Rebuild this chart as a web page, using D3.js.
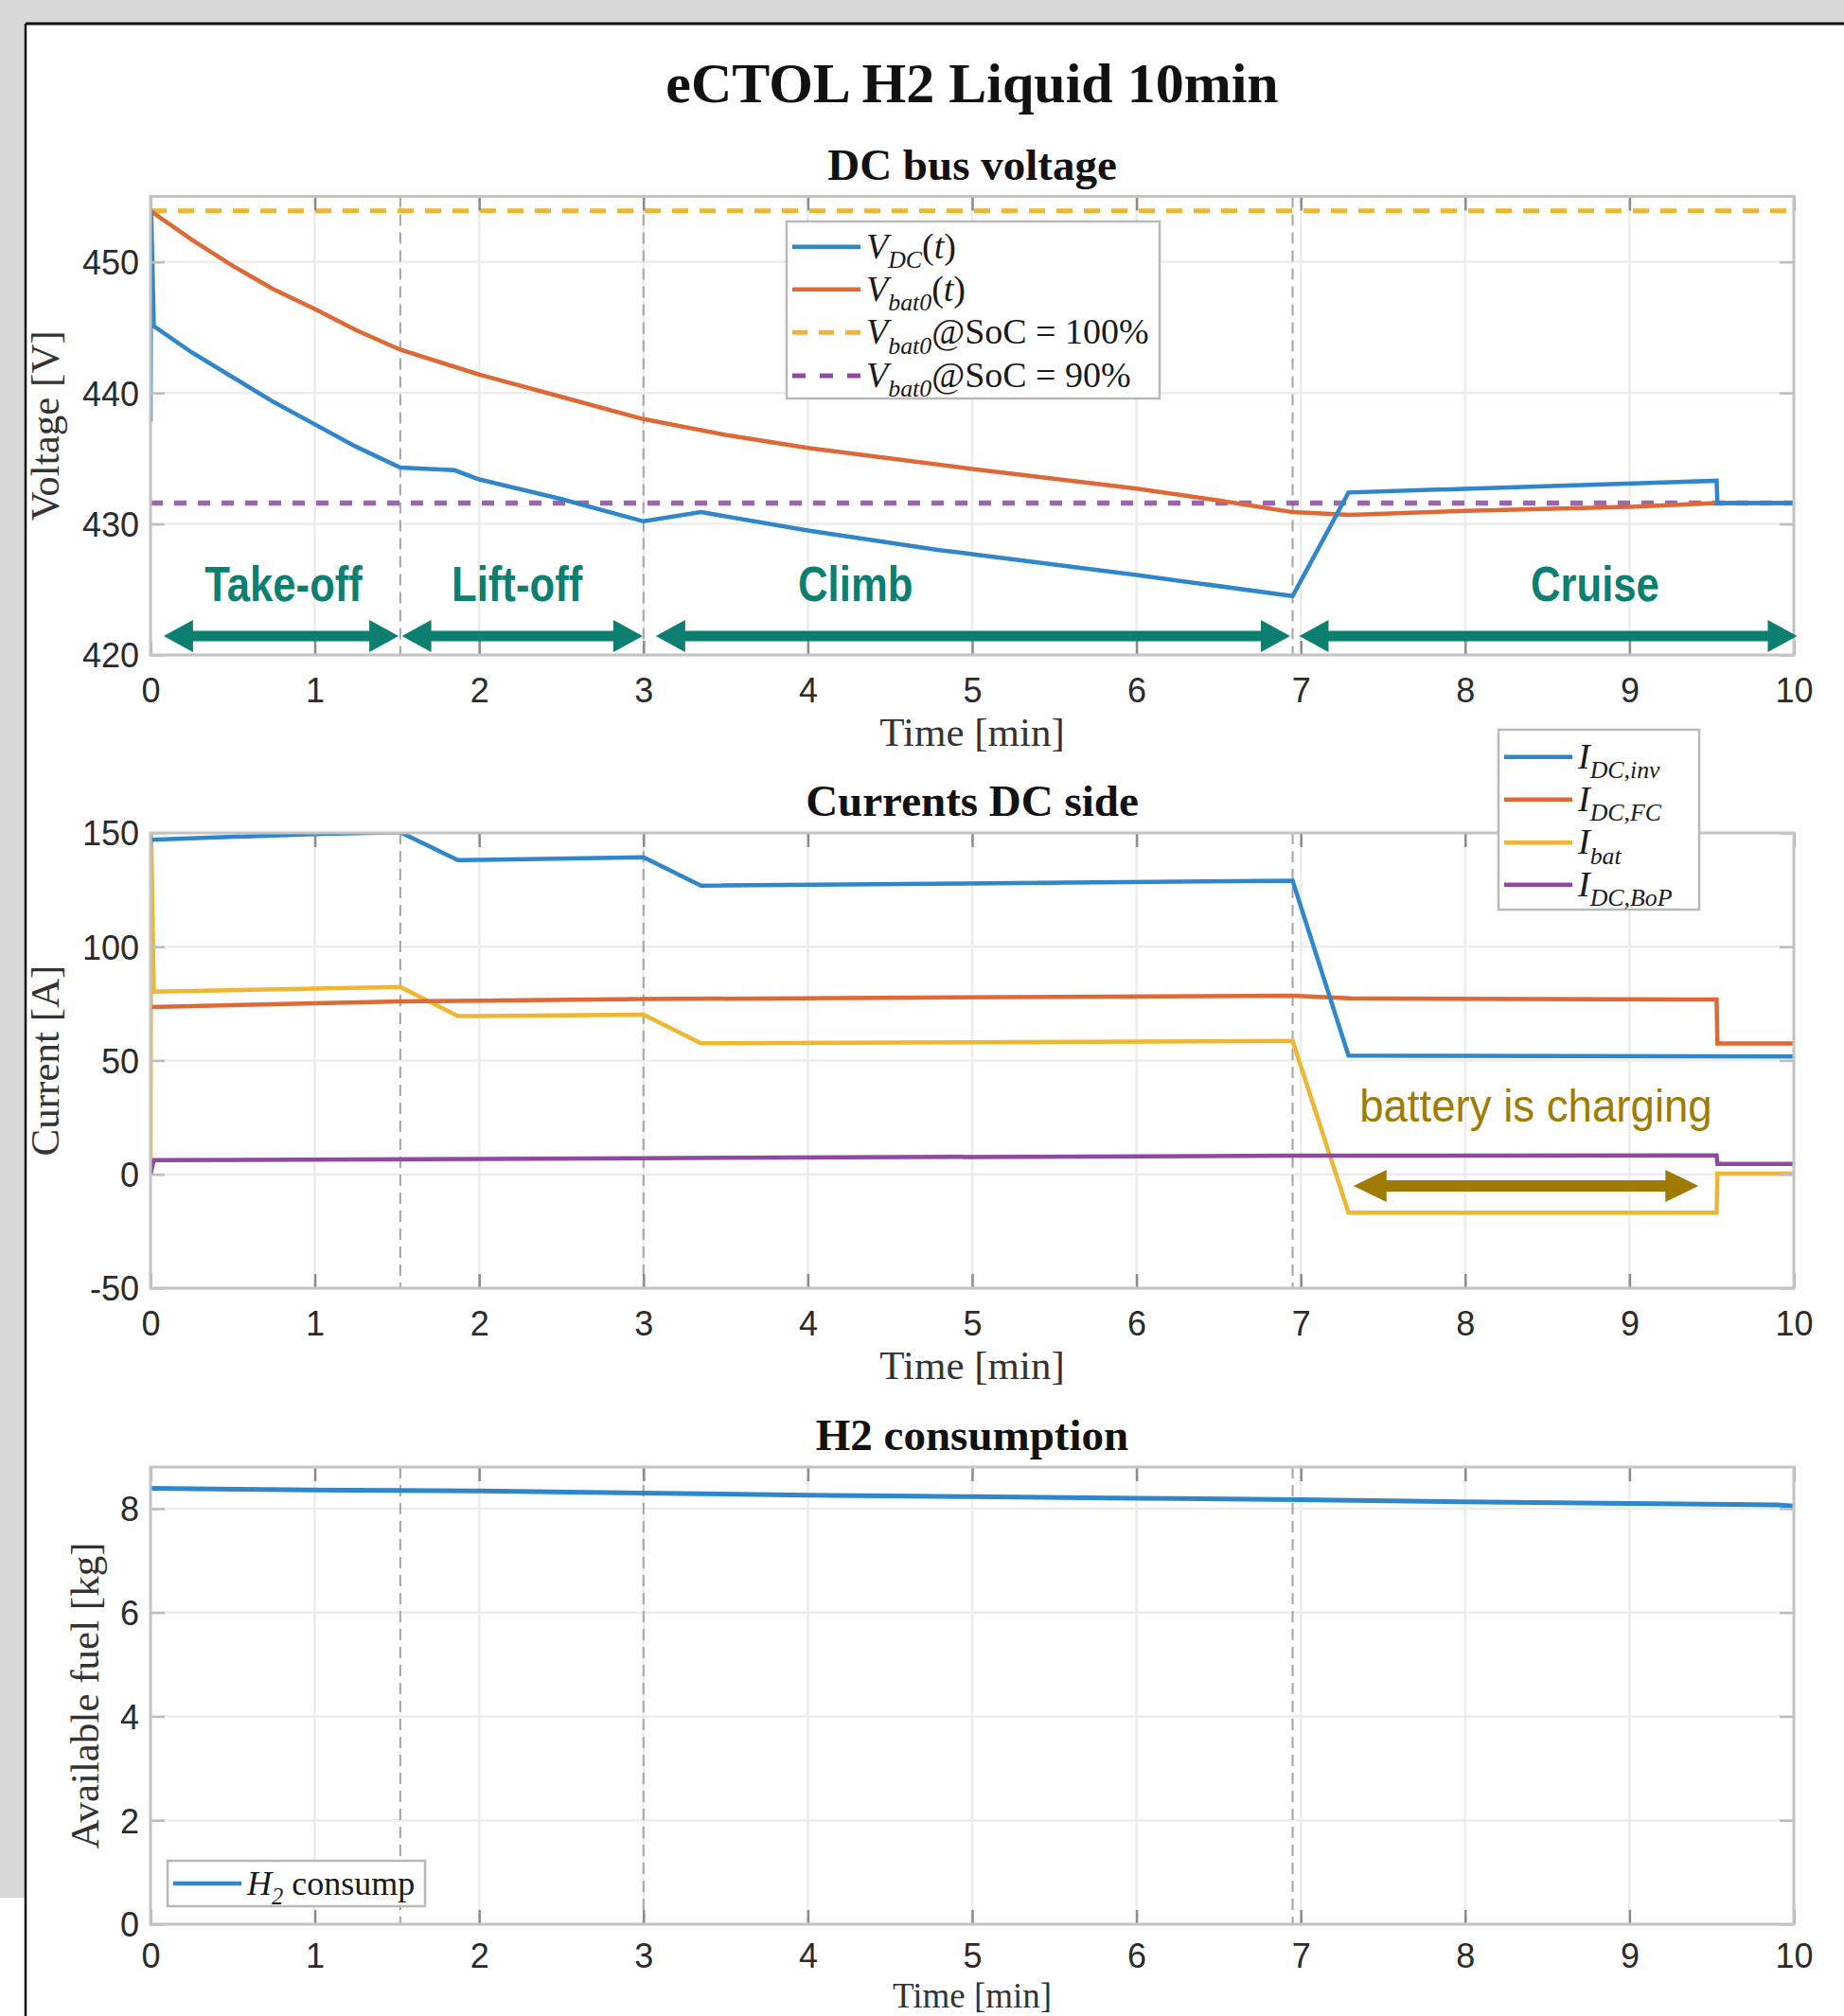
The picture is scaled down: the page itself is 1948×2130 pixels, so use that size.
<!DOCTYPE html>
<html>
<head>
<meta charset="utf-8">
<script src="https://cdn.jsdelivr.net/npm/d3@7"></script>
<style>
body { margin: 0; background: #fff; }
svg { display: block; }
</style>
</head>
<body>
<div class="wrapper"></div>
<script>
const WIDTH = 1948
const HEIGHT = 2130
const SERIF = "'Liberation Serif', 'DejaVu Serif', serif"
const SANS = "'Liberation Sans', Arial, sans-serif"

// time axis (minutes) and flight phase boundaries
const minutes = [0, 1, 2, 3, 4, 5, 6, 7, 8, 9, 10]
const phaseBounds = [1.52, 3.0, 6.95]

// --- DC bus voltage [V] ---
const voltTicks = [420, 430, 440, 450]
const vDC = [[0, 437.8], [0.004, 453.9], [0.02, 445.1], [0.25, 443.1], [0.5, 441.2], [0.75, 439.3],
             [1, 437.6], [1.25, 435.9], [1.52, 434.3], [1.85, 434.1], [2, 433.4], [2.5, 431.9],
             [3, 430.2], [3.35, 430.9], [4, 429.5], [4.8, 428.0], [5, 427.7], [6, 426.1],
             [6.95, 424.5], [7.29, 432.4], [9.53, 433.3], [9.535, 431.6], [10, 431.6]]
const vBat0 = [[0, 453.9], [0.25, 451.7], [0.5, 449.7], [0.75, 447.9], [1, 446.4], [1.25, 444.8],
               [1.52, 443.3], [2, 441.4], [2.5, 439.7], [3, 438.0], [3.5, 436.8], [4, 435.8],
               [5, 434.2], [6, 432.7], [6.5, 431.8], [6.95, 430.9], [7.3, 430.7], [8, 431.0],
               [9, 431.3], [9.53, 431.6], [10, 431.6]]
const vSoC100 = 453.9
const vSoC90 = 431.6

const phaseNames = ['Take-off', 'Lift-off', 'Climb', 'Cruise']
const phaseNameAt = [0.81, 2.23, 4.29, 8.79]
const phaseNameV = 424.1
const phaseSpans = [[0.08, 1.51], [1.53, 2.995], [3.075, 6.935], [6.99, 10.02]]
const phaseArrowV = 421.45

// --- currents DC side [A] ---
const currTicks = [-50, 0, 50, 100, 150]
const iInv = [[0, 147], [1, 149.5], [1.52, 150.3], [1.87, 138], [3, 139.3], [3.35, 126.8],
              [6.95, 129], [7.29, 52.2], [10, 51.8]]
const iFC = [[0, 73.5], [1.52, 76], [3, 77], [6.95, 78.5], [7.3, 77.3], [9.53, 76.8],
             [9.535, 57.5], [10, 57.5]]
const iBat = [[0, 0], [0.004, 150], [0.02, 80.3], [1.52, 82.3], [1.87, 69.5], [3, 70.2],
              [3.35, 57.6], [6.95, 58.6], [7.29, -16.8], [9.53, -16.8], [9.535, 0.3], [10, 0.3]]
const iBoP = [[0, 0], [0.02, 6.2], [3, 7.1], [6.95, 8.2], [9.53, 8.3], [9.535, 4.6], [10, 4.6]]
const chargingSpan = [7.32, 9.42]
const chargingArrowI = -5.1
const chargingText = 'battery is charging'
const chargingTextAt = [8.43, 23.3]

// --- H2 consumption [kg] ---
const fuelTicks = [0, 2, 4, 6, 8]
const h2Fuel = [[0, 8.39], [1, 8.36], [2, 8.34], [3, 8.30], [4, 8.26], [5, 8.23], [6, 8.20],
                [7, 8.17], [8, 8.13], [9, 8.10], [9.9, 8.07], [10, 8.05]]

const colors = {blue: '#2f86cb', orange: '#de6836', yellow: '#efb631', purple: '#8f49a3',
                teal: '#0d7f70', olive: '#9f7b02'}

const panels = [
  {title: 'DC bus voltage', top: 207.5, bottom: 692, domain: [420, 455], ticks: voltTicks,
   ylabel: 'Voltage [V]', ylabelX: 62, xlabelGap: 96, xlabelSize: 43, tickPad: 24},
  {title: 'Currents DC side', top: 880, bottom: 1361, domain: [-50, 150], ticks: currTicks,
   ylabel: 'Current [A]', ylabelX: 62, xlabelGap: 96, xlabelSize: 43, tickPad: 24},
  {title: 'H2 consumption', top: 1550, bottom: 2033, domain: [0, 8.8], ticks: fuelTicks,
   ylabel: 'Available fuel [kg]', ylabelX: 104, xlabelGap: 88, xlabelSize: 37, tickPad: 20}
]

const svg = d3.select(".wrapper")
    .append("svg")
    .attr("width", WIDTH)
    .attr("height", HEIGHT)

// screenshot surroundings
svg.append("rect").attr("width", WIDTH).attr("height", HEIGHT).attr("fill", "#fff")
svg.append("rect").attr("width", WIDTH).attr("height", 25).attr("fill", "#d9d9d9")
svg.append("rect").attr("width", 27).attr("height", 2005).attr("fill", "#d9d9d9")
svg.append("line").attr("x1", 27).attr("x2", WIDTH).attr("y1", 25).attr("y2", 25)
    .attr("stroke", "#111").attr("stroke-width", 3)
svg.append("line").attr("x1", 27).attr("x2", 27).attr("y1", 25).attr("y2", HEIGHT)
    .attr("stroke", "#111").attr("stroke-width", 2.5)

svg.append("text")
    .attr("x", 1027).attr("y", 108)
    .attr("text-anchor", "middle")
    .style("font-family", SERIF).style("font-size", "60px").style("font-weight", "bold")
    .attr("fill", "#111")
    .text("eCTOL H2 Liquid 10min")

var x = d3.scaleLinear().domain([0, 10]).range([159, 1895])

function linePath(y) {
	return d3.line().x(d => x(d[0])).y(d => y(d[1]))
}

// double headed block arrow between x1 and x2 at height yc
function arrowPath(x1, x2, yc, h, H, L) {
	return `M${x1},${yc} L${x1 + L},${yc - H} L${x1 + L},${yc - h} L${x2 - L},${yc - h}
	        L${x2 - L},${yc - H} L${x2},${yc} L${x2 - L},${yc + H} L${x2 - L},${yc + h}
	        L${x1 + L},${yc + h} L${x1 + L},${yc + H} Z`
}

function squeeze(sel, ratio) {
	sel.each(function() {
		var w = this.getComputedTextLength()
		d3.select(this).attr("textLength", w * ratio).attr("lengthAdjust", "spacingAndGlyphs")
	})
}

function legendLabel(g, lx, ly, parts, size) {
	var t = g.append("text").attr("x", lx).attr("y", ly)
	    .style("font-family", SERIF).style("font-size", size + "px").attr("fill", "#1a1a1a")
	var sub = false
	parts.forEach(function(p) {
		var sp = t.append("tspan").text(p[0])
		if (p[1] == 'i' || p[1] == 's') sp.style("font-style", "italic")
		if (p[1] == 's') {
			sp.style("font-size", (size * 0.68) + "px").attr("dy", size * 0.27)
			sub = true
		} else if (sub) {
			sp.attr("dy", -size * 0.27)
			sub = false
		}
	})
}

function legendBox(g, box, rows) {
	g.append("rect")
	    .attr("x", box[0]).attr("y", box[1]).attr("width", box[2] - box[0]).attr("height", box[3] - box[1])
	    .attr("fill", "#fff").attr("stroke", "#b9b9b9").attr("stroke-width", 2.5)
	rows.forEach(function(r) {
		g.append("line")
		    .attr("x1", box[0] + 6).attr("x2", box[0] + 78).attr("y1", r.y).attr("y2", r.y)
		    .attr("stroke", r.color).attr("stroke-width", r.dash ? 5 : 4.5)
		    .attr("stroke-dasharray", r.dash || null)
		legendLabel(g, box[0] + 84, r.y + 12, r.parts, r.size)
	})
}

panels.forEach(function(p, i) {
	var y = d3.scaleLinear().domain(p.domain).range([p.bottom, p.top])
	p.y = y
	var g = svg.append("g")

	g.append("clipPath").attr("id", "clip" + i)
	    .append("rect").attr("x", 159).attr("y", p.top).attr("width", 1895 - 159).attr("height", p.bottom - p.top)

	// grid
	g.append("g").selectAll("line").data(minutes).join("line")
	    .attr("x1", d => x(d)).attr("x2", d => x(d)).attr("y1", p.top).attr("y2", p.bottom)
	    .attr("stroke", "#ececec").attr("stroke-width", 2.5)
	g.append("g").selectAll("line").data(p.ticks).join("line")
	    .attr("x1", 159).attr("x2", 1895).attr("y1", d => y(d)).attr("y2", d => y(d))
	    .attr("stroke", "#ececec").attr("stroke-width", 2.5)

	// flight phase boundaries
	g.append("g").selectAll("line").data(phaseBounds).join("line")
	    .attr("x1", d => x(d)).attr("x2", d => x(d)).attr("y1", p.top).attr("y2", p.bottom)
	    .attr("stroke", "#a5a5a5").attr("stroke-width", 2).attr("stroke-dasharray", "12,7")

	p.data = g.append("g").attr("clip-path", `url(#clip${i})`)
	p.g = g

	// title and labels
	svg.append("text")
	    .attr("x", x(5)).attr("y", p.top - 18)
	    .attr("text-anchor", "middle")
	    .style("font-family", SERIF).style("font-size", "47px").style("font-weight", "bold")
	    .attr("fill", "#111")
	    .text(p.title)
	svg.append("text")
	    .attr("x", x(5)).attr("y", p.bottom + p.xlabelGap)
	    .attr("text-anchor", "middle")
	    .style("font-family", SERIF).style("font-size", p.xlabelSize + "px")
	    .attr("fill", "#333")
	    .text("Time [min]")
	svg.append("text")
	    .attr("transform", `translate(${p.ylabelX},${(p.top + p.bottom) / 2}) rotate(-90)`)
	    .attr("text-anchor", "middle")
	    .style("font-family", SERIF).style("font-size", "43px")
	    .attr("fill", "#333")
	    .text(p.ylabel)
})

// --- plot 1 data ---
var p1 = panels[0]
p1.data.append("line")
    .attr("x1", x(0)).attr("x2", x(10)).attr("y1", p1.y(vSoC100)).attr("y2", p1.y(vSoC100))
    .attr("stroke", colors.yellow).attr("stroke-width", 5).attr("stroke-dasharray", "17,12")
p1.data.append("line")
    .attr("x1", x(0)).attr("x2", x(10)).attr("y1", p1.y(vSoC90)).attr("y2", p1.y(vSoC90))
    .attr("stroke", colors.purple).attr("stroke-width", 5.5).attr("stroke-dasharray", "13,12")
    .attr("opacity", 0.85)
p1.data.append("path").datum(vBat0)
    .attr("d", linePath(p1.y)).attr("fill", "none")
    .attr("stroke", colors.orange).attr("stroke-width", 4.5)
p1.data.append("path").datum(vDC)
    .attr("d", linePath(p1.y)).attr("fill", "none")
    .attr("stroke", colors.blue).attr("stroke-width", 4.5)

// --- plot 2 data ---
var p2 = panels[1]
var currentSeries = [[iBat, colors.yellow], [iBoP, colors.purple], [iFC, colors.orange], [iInv, colors.blue]]
currentSeries.forEach(function(s) {
	p2.data.append("path").datum(s[0])
	    .attr("d", linePath(p2.y)).attr("fill", "none")
	    .attr("stroke", s[1]).attr("stroke-width", 4.5)
})

// --- plot 3 data ---
var p3 = panels[2]
p3.data.append("path").datum(h2Fuel)
    .attr("d", linePath(p3.y)).attr("fill", "none")
    .attr("stroke", colors.blue).attr("stroke-width", 5)

// axes, frames and ticks
panels.forEach(function(p) {
	var g = p.g
	var fmt = d => String(d)
	var bottom = g.append("g").attr("transform", `translate(0,${p.bottom})`)
	    .call(d3.axisBottom(x).tickValues(minutes).tickSizeInner(-15).tickSizeOuter(0).tickPadding(p.tickPad).tickFormat(fmt))
	var top = g.append("g").attr("transform", `translate(0,${p.top})`)
	    .call(d3.axisTop(x).tickValues(minutes).tickSizeInner(-15).tickSizeOuter(0).tickFormat(""))
	var left = g.append("g").attr("transform", `translate(159,0)`)
	    .call(d3.axisLeft(p.y).tickValues(p.ticks).tickSizeInner(-15).tickSizeOuter(0).tickPadding(12).tickFormat(fmt))
	var right = g.append("g").attr("transform", `translate(1895,0)`)
	    .call(d3.axisRight(p.y).tickValues(p.ticks).tickSizeInner(-15).tickSizeOuter(0).tickFormat(""))
	;[bottom, top, left, right].forEach(function(a) {
		a.select(".domain").remove()
		a.selectAll("text").style("font-family", SANS).style("font-size", "36px").attr("fill", "#2b2b2b")
	})
	bottom.selectAll("line").attr("stroke", "#8c8c8c").attr("stroke-width", 2.5)
	top.selectAll("line").attr("stroke", "#8c8c8c").attr("stroke-width", 2.5)
	left.selectAll("line").attr("stroke", "#bdbdbd").attr("stroke-width", 2.5)
	right.selectAll("line").attr("stroke", "#bdbdbd").attr("stroke-width", 2.5)
	left.selectAll("text").attr("dy", "0.36em")

	g.append("rect")
	    .attr("x", 159).attr("y", p.top).attr("width", 1895 - 159).attr("height", p.bottom - p.top)
	    .attr("fill", "none").attr("stroke", "#c4c4c4").attr("stroke-width", 3)
})

// --- annotations ---
p1.g.append("g").selectAll("path").data(phaseSpans).join("path")
    .attr("d", d => arrowPath(x(d[0]), x(d[1]), p1.y(phaseArrowV), 5.5, 17, 31))
    .attr("fill", colors.teal)
p1.g.append("g").selectAll("text").data(phaseNames).join("text")
    .attr("x", (d, i) => x(phaseNameAt[i]))
    .attr("y", p1.y(phaseNameV))
    .attr("text-anchor", "middle")
    .style("font-family", SANS).style("font-size", "52px").style("font-weight", "bold")
    .attr("fill", colors.teal)
    .text(d => d)
    .call(squeeze, 0.84)

p2.g.append("path")
    .attr("d", arrowPath(x(chargingSpan[0]), x(chargingSpan[1]), p2.y(chargingArrowI), 6, 17, 35))
    .attr("fill", colors.olive)
p2.g.append("text")
    .attr("x", x(chargingTextAt[0])).attr("y", p2.y(chargingTextAt[1]))
    .attr("text-anchor", "middle")
    .style("font-family", SANS).style("font-size", "48px")
    .attr("fill", colors.olive)
    .text(chargingText)
    .call(squeeze, 0.95)

// --- legends ---
legendBox(svg.append("g"), [831, 234, 1225, 421], [
	{y: 260.7, color: colors.blue, size: 38, parts: [["V", "i"], ["DC", "s"], ["(", "r"], ["t", "i"], [")", "r"]]},
	{y: 305.7, color: colors.orange, size: 38, parts: [["V", "i"], ["bat0", "s"], ["(", "r"], ["t", "i"], [")", "r"]]},
	{y: 351.3, color: colors.yellow, size: 38, dash: "16,12", parts: [["V", "i"], ["bat0", "s"], ["@SoC = 100%", "r"]]},
	{y: 397, color: colors.purple, size: 38, dash: "14,15", parts: [["V", "i"], ["bat0", "s"], ["@SoC = 90%", "r"]]}
])
legendBox(svg.append("g"), [1583, 771, 1795, 961], [
	{y: 799.7, color: colors.blue, size: 38, parts: [["I", "i"], ["DC,inv", "s"]]},
	{y: 844.7, color: colors.orange, size: 38, parts: [["I", "i"], ["DC,FC", "s"]]},
	{y: 890.3, color: colors.yellow, size: 38, parts: [["I", "i"], ["bat", "s"]]},
	{y: 934.7, color: colors.purple, size: 38, parts: [["I", "i"], ["DC,BoP", "s"]]}
])
legendBox(svg.append("g"), [177, 1966, 449, 2014], [
	{y: 1990, color: colors.blue, size: 36, parts: [["H", "i"], ["2", "s"], [" consump", "r"]]}
])
</script>
</body>
</html>
